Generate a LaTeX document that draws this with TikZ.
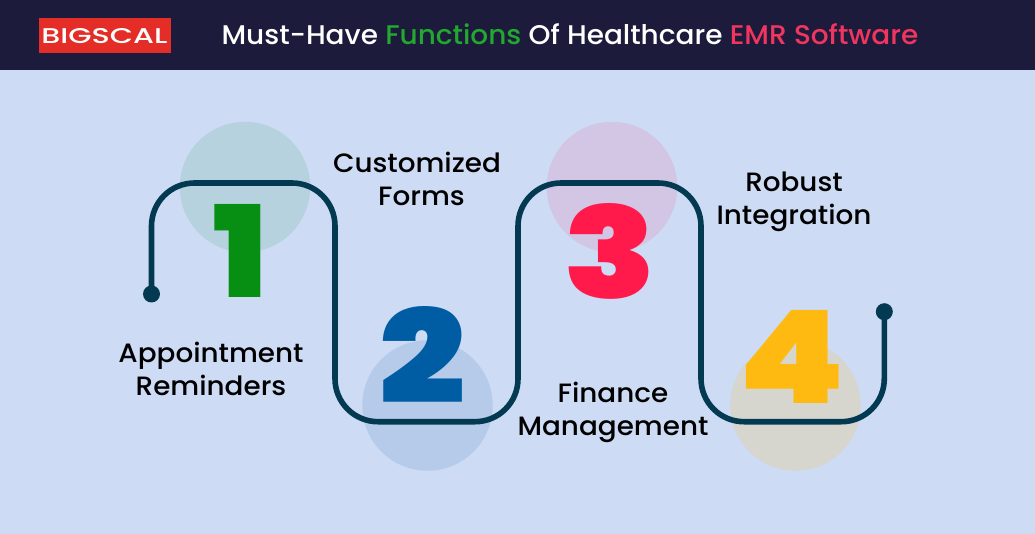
\documentclass[tikz,border=0pt]{standalone}
\usepackage{fontspec}
\usepackage{graphicx}
\setmainfont{Poppins}
\newfontfamily\lblfont[FakeStretch=1.05]{Poppins Medium}
\newfontfamily\ttlfont[FakeStretch=1.035]{Poppins Medium}
\newfontfamily\logofont{Poppins Medium}
\newfontfamily\digfont{Poppins Black}
\definecolor{bgc}{HTML}{CDDBF5}
\definecolor{headc}{HTML}{1D1B3C}
\definecolor{logoc}{HTML}{E32D26}
\definecolor{pathc}{HTML}{033A52}
\definecolor{tgreen}{HTML}{22A72F}
\definecolor{tpink}{HTML}{F0355E}
\definecolor{b1}{HTML}{B7D2DF}
\definecolor{b2}{HTML}{B5CBE9}
\definecolor{b3}{HTML}{D2C6E4}
\definecolor{b4}{HTML}{D6D6CF}
\definecolor{d1}{HTML}{068F12}
\definecolor{d2}{HTML}{005CA3}
\definecolor{d3}{HTML}{FF1A4B}
\definecolor{d4}{HTML}{FFBA11}
\tikzset{
  x=1pt,y=-1pt,
  blob/.style={circle,minimum size=130.5pt,inner sep=0pt,fill=#1},
  lbl/.style={align=center,inner sep=0pt,text=black,font=\lblfont\fontsize{26.5}{33}\selectfont},
  dig/.style={inner sep=0pt,text=#1},
  enddot/.style={circle,minimum size=17pt,inner sep=0pt,fill=pathc},
  track/.style={draw=pathc,line width=5.6pt,rounded corners=43pt}
}
\newcommand{\digbox}[3]{\resizebox{#1pt}{#2pt}{\digfont #3}}
\begin{document}
\begin{tikzpicture}
\useasboundingbox (0,0) rectangle (1035,534);
\fill[bgc] (0,0) rectangle (1035,534);
\fill[headc] (0,0) rectangle (1035,70);
\node[fill=logoc,minimum width=132pt,minimum height=34.5pt,inner sep=0pt] (logo) at (105,35.3) {};
\node[text=white,inner sep=0pt] (logotext) at (104.5,36) {\resizebox{126pt}{15pt}{\logofont BIGSCAL}};
\node[text=white,inner sep=0pt,anchor=base] (title) at (570,45) {\ttlfont\fontsize{27}{30}\selectfont Must-Have \textcolor{tgreen}{Functions} Of Healthcare \textcolor{tpink}{EMR Software}};
\node[blob=b1] (c1) at (245,187) {};
\node[blob=b2] (c2) at (427.5,405.5) {};
\node[blob=b3] (c3) at (612,187) {};
\node[blob=b4] (c4) at (795.5,405.5) {};
\node[dig=d1] (n1) at (240.5,251) {\digbox{54}{93}{1}};
\node[dig=d2] (n2) at (423,354.5) {\digbox{86}{97}{2}};
\node[dig=d3] (n3) at (610.5,251.5) {\digbox{93}{95}{3}};
\node[dig=d4] (n4) at (791.5,356.5) {\digbox{107}{93}{4}};
\node[enddot] (s) at (151.5,294) {};
\node[enddot] (e) at (884.3,311.7) {};
\draw[track] (s.center) -- (151.5,183) -- (335,183) -- (335,421.7) -- (518,421.7) -- (518,183) -- (701,183) -- (701,421.7) -- (884.3,421.7) -- (e.center);
\node[lbl] (t1) at (211,369) {Appointment\\Reminders};
\node[lbl] (t2) at (417,179) {Customized\\\hspace*{9pt}Forms};
\node[lbl] (t3) at (613,412.5) {Finance\\Management};
\node[lbl] (t4) at (794,202) {Robust\\Integration};
\end{tikzpicture}
\end{document}
